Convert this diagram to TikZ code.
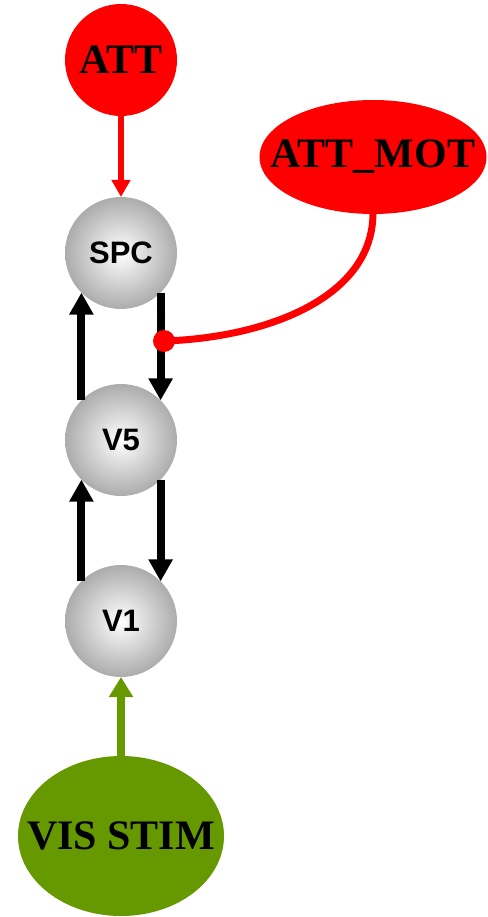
\documentclass[tikz,border=0pt]{standalone}
\usepackage{fontspec}
\setmainfont{Liberation Serif}
\newfontfamily\areafont{Liberation Sans}
\usetikzlibrary{shapes.geometric,arrows.meta}
\definecolor{attred}{RGB}{255,0,0}
\definecolor{stimgreen}{RGB}{102,153,0}
\definecolor{ballrim}{RGB}{172,172,172}
\begin{document}
\begin{tikzpicture}[x=1pt,y=-1pt,
  area/.style={circle,inner sep=0,outer sep=0,minimum size=112pt,
    shading=radial,inner color=white,outer color=ballrim,
    font=\areafont\bfseries\fontsize{31}{31}\selectfont},
  source/.style={inner sep=0,outer sep=0,
    font=\bfseries\fontsize{42}{42}\selectfont},
  ff/.style={line width=8pt,-{Triangle[width=23pt,length=22pt]}},
  redarrow/.style={attred,line width=6pt,-{Triangle[width=18pt,length=17pt]}},
  greenarrow/.style={stimgreen,line width=7.5pt,-{Triangle[width=23pt,length=20pt]}}]
  \useasboundingbox (0,0) rectangle (487,917);

  % input nodes (labels boxed at zero width so the ellipse keeps its set size)
  \node[source,circle,fill=attred,minimum size=112pt] (att) at (121,60) {\makebox[0pt]{ATT}};
  \node[source,ellipse,fill=attred,minimum width=227pt,minimum height=114pt] (attmot) at (373,157) {\makebox[0pt]{ATT\_MOT}};
  \node[source,ellipse,fill=stimgreen,minimum width=206pt,minimum height=160pt] (vis) at (121,836) {\makebox[0pt]{VIS STIM}};

  % visual areas
  \node[area] (spc) at (121,253) {SPC};
  \node[area] (v5) at (121,440) {V5};
  \node[area] (v1) at (121,621) {V1};

  % feedforward / feedback loops
  \draw[ff] (v5.north west) -- (spc.south west);
  \draw[ff] (spc.south east) -- (v5.north east);
  \draw[ff] (v1.north west) -- (v5.south west);
  \draw[ff] (v5.south east) -- (v1.north east);

  % inputs
  \draw[redarrow] (att.south) -- (spc.north);
  \draw[greenarrow] (vis.north) -- (v1.south);

  % modulatory connection onto the SPC -> V5 link
  \node[circle,fill=attred,inner sep=0,minimum size=22pt] (mod) at (164,341) {};
  \draw[attred,line width=7pt] (attmot.south) .. controls (372,300) and (262,338) .. (mod.center);
\end{tikzpicture}
\end{document}
